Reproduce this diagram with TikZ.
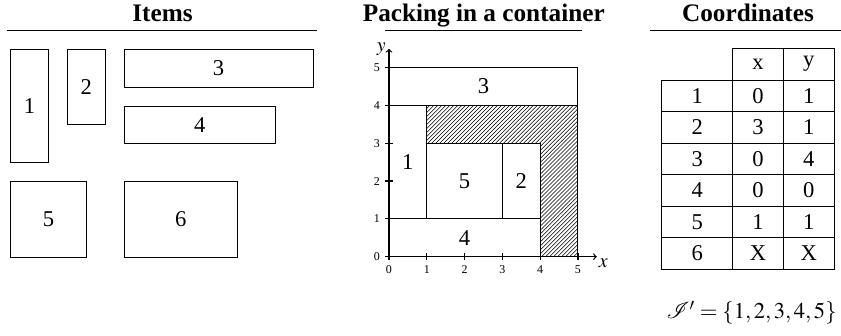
\documentclass[tikz,border=0pt]{standalone}
\usepackage{mathptmx}
\usepackage{mathrsfs}
\usepackage{fontspec}
\setmainfont{Liberation Serif}
\usetikzlibrary{patterns,positioning}

\tikzset{
	heading/.style={font=\fontsize{19}{22}\selectfont\bfseries, anchor=base, inner sep=0pt},
	itembox/.style={draw, line width=0.7pt, inner sep=0pt, outer sep=0pt, font=\fontsize{17}{20}\selectfont},
	cell/.style={draw, line width=0.7pt, inner sep=0pt, minimum height=0.835cm, font=\fontsize{17}{20}\selectfont},
	ticklabel/.style={font=\fontsize{9}{10}\selectfont, inner sep=0pt},
}

\begin{document}
\begin{tikzpicture}
	\useasboundingbox (0,0) rectangle (22.25,8.889);
	% headings
	\node[heading] (hitems) at (4.30,8.315) {Items};
	\node[heading] (hpack) at (12.80,8.315) {Packing in a container};
	\node[heading] (hcoord) at (19.79,8.315) {Coordinates};
	\draw[line width=0.7pt] (0.18,8.095) -- (8.38,8.095);
	\draw[line width=0.7pt] (10.19,8.095) -- (15.39,8.095);
	\draw[line width=0.7pt] (17.20,8.095) -- (22.25,8.095);

	% items
	\node[itembox, anchor=north west, minimum width=1cm, minimum height=3cm] (item1) at (0.283,7.585) {1};
	\node[itembox, right=0.5cm of item1.north east, anchor=north west, minimum width=1cm, minimum height=2cm] (item2) {2};
	\node[itembox, right=0.5cm of item2.north east, anchor=north west, minimum width=5cm, minimum height=1cm] (item3) {3};
	\node[itembox, below=0.5cm of item3.south west, anchor=north west, minimum width=4cm, minimum height=1cm] (item4) {4};
	\node[itembox, below=0.5cm of item1.south west, anchor=north west, minimum width=2cm, minimum height=2cm] (item5) {5};
	\node[itembox, right=1cm of item5.north east, anchor=north west, minimum width=3cm, minimum height=2cm] (item6) {6};

	% packing
	\begin{scope}[shift={(10.29,2.098)}]
		\draw[line width=0.7pt, pattern=north east lines] (1,3) -- (4,3) -- (4,0) -- (5,0) -- (5,4) -- (1,4) -- cycle;
		\node[itembox, anchor=south west, minimum width=4cm, minimum height=1cm] (pack4) at (0,0) {4};
		\node[itembox, anchor=south west, minimum width=1cm, minimum height=3cm] (pack1) at (0,1) {1};
		\node[itembox, anchor=south west, minimum width=2cm, minimum height=2cm] (pack5) at (1,1) {5};
		\node[itembox, anchor=south west, minimum width=1cm, minimum height=2cm] (pack2) at (3,1) {2};
		\node[itembox, anchor=south west, minimum width=5cm, minimum height=1cm] (pack3) at (0,4) {3};
		\draw[->, line width=0.9pt] (0,0) -- (5.5,0) node[below right, inner sep=1pt, font=\fontsize{15}{18}\selectfont] (xlab) {$x$};
		\draw[->, line width=0.9pt] (0,0) -- (0,5.5) node[left, inner sep=2pt, font=\fontsize{15}{18}\selectfont] (ylab) {$y$};
		\foreach \t in {0,...,5} {
			\draw[line width=0.9pt] (\t,-0.1) -- (\t,0.1);
			\draw[line width=0.9pt] (-0.1,\t) -- (0.1,\t);
			\node[ticklabel] (xt\t) at (\t,-0.35) {\t};
			\node[ticklabel] (yt\t) at (-0.32,\t) {\t};
		}
	\end{scope}

	% coordinates
	\node[cell, minimum width=1.338cm] (hx) at (20.053,7.19) {x};
	\node[cell, minimum width=1.349cm] (hy) at (21.396,7.19) {y};
	\foreach \id/\cx/\cy [count=\r] in {1/0/1, 2/3/1, 3/0/4, 4/0/0, 5/1/1, 6/X/X} {
		\node[cell, minimum width=1.879cm] (id\r) at (18.445,{6.772-0.835*(\r-0.5)}) {\id};
		\node[cell, minimum width=1.338cm] (cx\r) at (20.053,{6.772-0.835*(\r-0.5)}) {\cx};
		\node[cell, minimum width=1.349cm] (cy\r) at (21.396,{6.772-0.835*(\r-0.5)}) {\cy};
	}
	\node[anchor=base east, inner sep=0pt, font=\fontsize{17}{20}\selectfont] (iprime) at (22.14,0.468) {$\mathscr{I}'=\{1,2,3,4,5\}$};
\end{tikzpicture}
\end{document}
